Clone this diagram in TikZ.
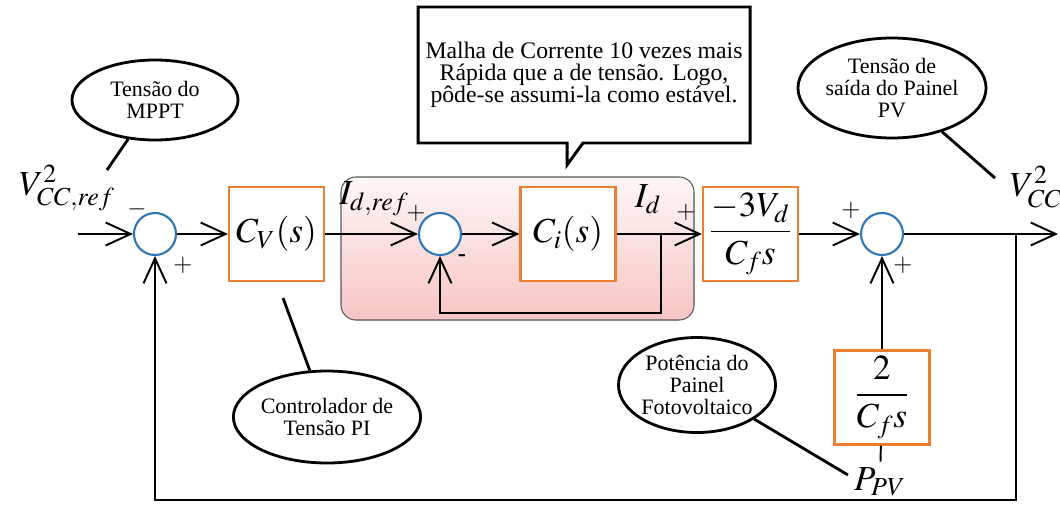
\documentclass[tikz,border=0pt]{standalone}
\usepackage{mathptmx}
\usepackage[no-math]{fontspec}
\setmainfont{Liberation Serif}
\newfontfamily\serifa{Liberation Serif}
\definecolor{laranja}{HTML}{ED7D31}
\definecolor{azul}{HTML}{2E75B6}
\definecolor{rosa}{HTML}{F7C4C4}
\usetikzlibrary{shapes.geometric,arrows.meta,calc}
\tikzset{
  bloco/.style={draw=laranja,line width=1.2pt,fill=white,minimum width=1.9cm,minimum height=1.88cm,font=\fontsize{20}{22}\selectfont},
  soma/.style={draw=azul,line width=1.2pt,fill=white,circle,minimum size=0.84cm,inner sep=0pt},
  balao/.style={draw,ellipse,line width=1.6pt,align=center,inner sep=0pt,font=\serifa\fontsize{12.5}{12.5}\selectfont},
  seta/.style={line width=1.1pt,-{Straight Barb[length=5mm,width=4.6mm,line width=1.1pt]}},
  sinal/.style={font=\fontsize{14}{14}\selectfont},
  rotulo/.style={font=\fontsize{20}{22}\selectfont}
}
\begin{document}
\begin{tikzpicture}
    \useasboundingbox (0,0) rectangle (21.2,10.18);
    \fill[top color=rosa!15,bottom color=rosa,rounded corners=0.3cm] (6.82,3.78) rectangle (13.88,6.64);
    \draw[gray!70!black,line width=0.6pt,rounded corners=0.3cm] (6.82,3.78) rectangle (13.88,6.64);

    \node[soma] (s1) at (3.1,5.5) {};
    \node[bloco] (cv) at (5.53,5.5) {$C_V(s)$};
    \node[soma] (s2) at (8.8,5.5) {};
    \node[bloco] (ci) at (11.36,5.5) {$C_i(s)$};
    \node[bloco] (gv) at (15.01,5.5) {$\displaystyle\frac{-3V_d}{C_f s}$};
    \node[soma] (s3) at (17.64,5.5) {};
    \node[bloco] (gp) at (17.64,2.23) {$\displaystyle\frac{2}{C_f s}$};

    \node[rotulo] (vref) at (1.34,6.42) {$V^2_{CC,ref}$};
    \node[rotulo] (vcc) at (20.72,6.44) {$V^2_{CC}$};
    \node[rotulo] (idref) at (7.48,6.2) {$I_{d,ref}$};
    \node[rotulo] (id) at (12.96,6.2) {$I_d$};
    \node[rotulo] (ppv) at (17.6,0.54) {$P_{PV}$};

    \node[sinal] (m1) at (2.74,6.0) {$-$};
    \node[sinal] (p1) at (3.66,4.88) {$+$};
    \node[sinal] (p2) at (8.32,5.92) {$+$};
    \node[sinal] (m2) at (9.24,5.02) {\textbf{-}};
    \node[sinal] (p3) at (13.72,5.94) {$+$};
    \node[sinal] (p4) at (17.02,5.98) {$+$};
    \node[sinal] (p5) at (18.06,4.88) {$+$};

    \coordinate (ent) at (1.56,5.5);
    \coordinate (saida) at (21.16,5.5);
    \coordinate (ramo1) at (13.22,5.5);
    \coordinate (ramo2) at (20.32,5.5);
    \draw[seta] (ent) -- (s1);
    \draw[seta] (s1) -- (cv);
    \draw[seta] (cv) -- (s2);
    \draw[seta] (s2) -- (ci);
    \draw[seta] (ci) -- (gv);
    \draw[seta] (ramo1) -- ++(0,-1.58) -| (s2);
    \draw[seta] (gv) -- (s3);
    \draw[seta] (s3) -- (saida);
    \draw[seta] (ramo2) -- ++(0,-5.32) -| (s1);
    \draw[seta] (gp) -- (s3);
    \draw[line width=1.1pt] (gp) -- (ppv);

    \node[balao,minimum width=3.32cm,minimum height=1.6cm] (mppt) at (3.1,8.18) {Tensão do\\MPPT};
    \node[balao,minimum width=2.96cm,minimum height=2.0cm] (vpv) at (17.84,8.42) {Tensão de\\saída do Painel\\PV};
    \node[balao,minimum width=3.0cm,minimum height=1.84cm] (pi) at (6.54,1.84) {Controlador de\\Tensão PI};
    \node[balao,minimum width=2.82cm,minimum height=1.9cm] (pot) at (13.94,2.48) {Potência do\\Painel\\Fotovoltaico};
    \coordinate (c1) at (2.14,6.78);
    \coordinate (c2) at (19.9,6.62);
    \coordinate (c3) at (5.66,4.22);
    \coordinate (c4) at (16.96,0.68);
    \draw[line width=1.6pt] (mppt) -- (c1);
    \draw[line width=1.6pt] (vpv) -- (c2);
    \draw[line width=1.6pt] (pi) -- (c3);
    \draw[line width=1.6pt] (pot) -- (c4);

    \draw[line width=1.7pt,fill=white] (8.36,10.04) -- (15.0,10.04) -- (15.0,7.32) -- (11.66,7.32) -- (11.34,6.88) -- (11.34,7.32) -- (8.36,7.32) -- cycle;
    \node[align=center,font=\serifa\fontsize{13.5}{12.5}\selectfont] (nota) at (11.68,8.68) {Malha de Corrente 10 vezes mais\\Rápida que a de tensão. Logo,\\pôde-se assumi-la como estável.};
\end{tikzpicture}
\end{document}
